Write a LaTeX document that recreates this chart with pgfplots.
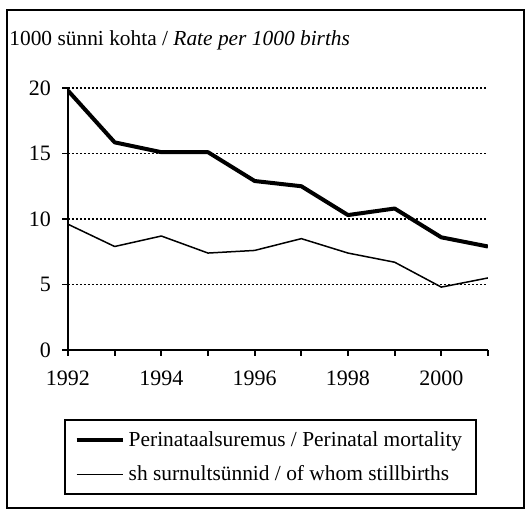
\documentclass[border=0pt]{standalone}
\usepackage{fontspec}
\setmainfont{Liberation Serif}
\usepackage{pgfplots}
\pgfplotsset{compat=1.18}
\begin{document}
\begin{tikzpicture}
\path[use as bounding box] (-34pt,-81pt) rectangle (230.5pt,175pt);
\draw[line width=1.2pt] (-30.5pt,-79pt) rectangle (228pt,170pt);
\node[anchor=west,inner sep=0pt,font=\fontsize{10.7}{13}\selectfont] at (-29.5pt,155pt) {1000 sünni kohta / \textit{Rate per 1000 births}};
\begin{axis}[
  at={(0pt,0pt)}, anchor=origin,
  scale only axis, width=210pt, height=131pt,
  xmin=1992, xmax=2001, ymin=0, ymax=20,
  axis x line*=bottom, axis y line*=left,
  axis line style={line width=0.9pt},
  xtick={1992,...,2001},
  xticklabels={1992,,1994,,1996,,1998,,2000,},
  ytick={0,5,10,15,20},
  tick align=outside, major tick length=3pt,
  tick style={line width=0.9pt, black},
  ymajorgrids, grid style={dash pattern=on 1.2pt off 0.8pt, line width=0.55pt, black},
  /pgf/number format/assume math mode=true,
  xticklabel style={yshift=-4pt},
  yticklabel style={xshift=-2pt},
  tick label style={font=\fontsize{11}{13}\selectfont},
  legend style={at={(0.482,-0.41)}, anchor=center, draw=black, line width=1pt,
    inner xsep=5pt, inner ysep=3.5pt, row sep=4pt,
    font=\fontsize{10.7}{13}\selectfont},
  legend cell align=left,
  legend image code/.code={\draw[#1] (0pt,0pt) -- (23pt,0pt);},
]
\addplot[black, line width=2pt, line join=round] coordinates {
(1992,19.8) (1993,15.85) (1994,15.1) (1995,15.1) (1996,12.9) (1997,12.5) (1998,10.3) (1999,10.8) (2000,8.6) (2001,7.9)};
\addlegendentry{Perinataalsuremus / Perinatal mortality}
\addplot[black, line width=0.75pt, line join=round] coordinates {
(1992,9.6) (1993,7.9) (1994,8.7) (1995,7.4) (1996,7.6) (1997,8.5) (1998,7.4) (1999,6.7) (2000,4.8) (2001,5.5)};
\addlegendentry{sh surnultsünnid / of whom stillbirths}
\end{axis}
\end{tikzpicture}
\end{document}
